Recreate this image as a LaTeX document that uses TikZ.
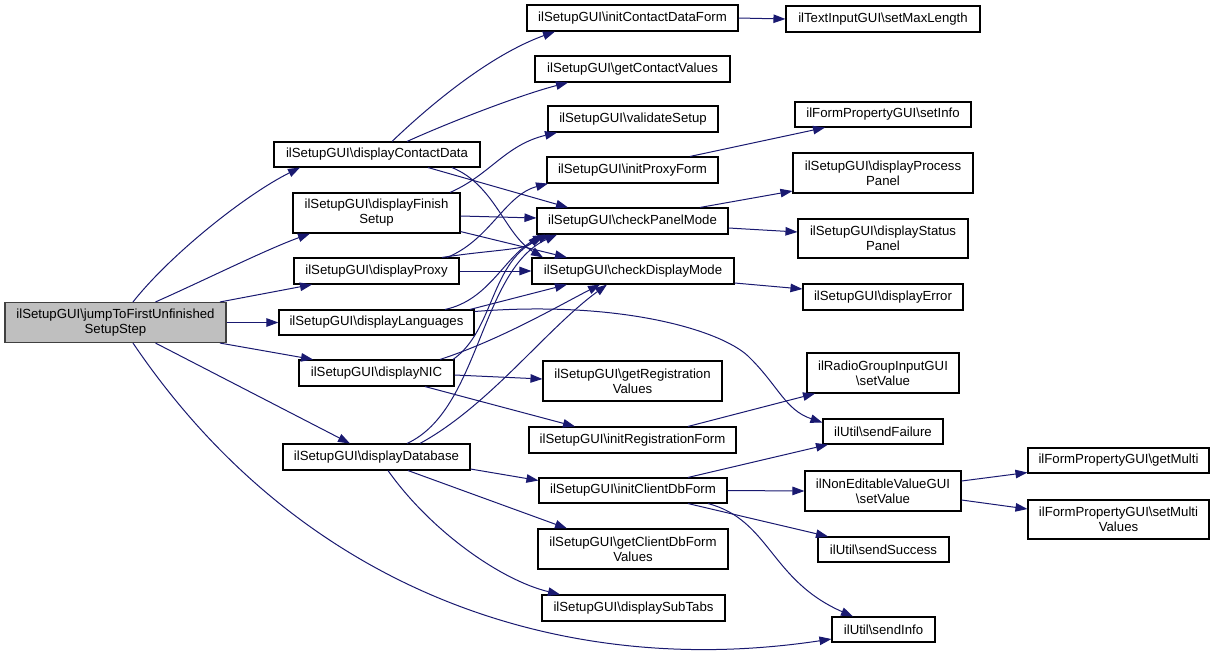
\documentclass[tikz,border=0pt]{standalone}
\usepackage{fontspec}
\setmainfont{Liberation Sans}
\usetikzlibrary{arrows.meta}
\definecolor{edgeblue}{RGB}{25,25,112}
\definecolor{rootgray}{RGB}{191,191,191}
\definecolor{rootborder}{RGB}{64,64,64}
\newcommand{\bs}{\textbackslash{}}
\begin{document}
\begin{tikzpicture}[x=1pt,y=-1pt,
  fnbox/.style={draw=black, line width=1.1pt, fill=white, inner sep=0pt, align=center,
    font=\fontsize{13.2}{15}\selectfont, minimum height=26pt},
  twoline/.style={minimum height=40pt},
  calledge/.style={draw=edgeblue, line width=1pt, -{Triangle[length=12pt,width=8.5pt]}}]
\useasboundingbox (0,0) rectangle (1215,656);
% column 0
\node[fnbox, twoline, fill=rootgray, draw=rootborder, minimum width=221pt] (jump) at (115.5,322.5) {ilSetupGUI\bs jumpToFirstUnfinished\\SetupStep};
% column 1
\node[fnbox, minimum width=206pt, minimum height=25pt] (cd) at (377,154.5) {ilSetupGUI\bs displayContactData};
\node[fnbox, twoline, minimum width=167pt] (fin) at (376.5,213) {ilSetupGUI\bs displayFinish\\Setup};
\node[fnbox, minimum width=165pt] (prx) at (376.5,271) {ilSetupGUI\bs displayProxy};
\node[fnbox, minimum width=195pt, minimum height=25pt] (lang) at (376.5,322.5) {ilSetupGUI\bs displayLanguages};
\node[fnbox, minimum width=155pt] (nic) at (376.5,373) {ilSetupGUI\bs displayNIC};
\node[fnbox, minimum width=187pt] (db) at (376.5,457) {ilSetupGUI\bs displayDatabase};
% column 2
\node[fnbox, minimum width=211pt] (icdf) at (632.5,18) {ilSetupGUI\bs initContactDataForm};
\node[fnbox, minimum width=195pt] (gcv) at (632.5,69) {ilSetupGUI\bs getContactValues};
\node[fnbox, minimum width=170pt] (vs) at (633,119) {ilSetupGUI\bs validateSetup};
\node[fnbox, minimum width=171pt] (ipf) at (632.5,170) {ilSetupGUI\bs initProxyForm};
\node[fnbox, minimum width=191pt] (cpm) at (632.5,221) {ilSetupGUI\bs checkPanelMode};
\node[fnbox, minimum width=202pt] (cdm) at (633,271) {ilSetupGUI\bs checkDisplayMode};
\node[fnbox, twoline, minimum width=179pt] (grv) at (632.5,381) {ilSetupGUI\bs getRegistration\\Values};
\node[fnbox, minimum width=207pt] (irf) at (632.5,440) {ilSetupGUI\bs initRegistrationForm};
\node[fnbox, minimum width=188pt, minimum height=25pt] (icdb) at (633,490.5) {ilSetupGUI\bs initClientDbForm};
\node[fnbox, twoline, minimum width=190pt] (gcdb) at (633,549) {ilSetupGUI\bs getClientDbForm\\Values};
\node[fnbox, minimum width=183pt] (dst) at (633.5,608) {ilSetupGUI\bs displaySubTabs};
% column 3
\node[fnbox, minimum width=194pt] (sml) at (883,19) {ilTextInputGUI\bs setMaxLength};
\node[fnbox, minimum width=176pt, minimum height=25pt] (si) at (883,114.5) {ilFormPropertyGUI\bs setInfo};
\node[fnbox, twoline, minimum width=180pt] (dpp) at (883,173) {ilSetupGUI\bs displayProcess\\Panel};
\node[fnbox, twoline, minimum width=170pt, minimum height=39pt] (dsp) at (883,238.5) {ilSetupGUI\bs displayStatus\\Panel};
\node[fnbox, minimum width=160pt] (de) at (883,297) {ilSetupGUI\bs displayError};
\node[fnbox, twoline, minimum width=152pt] (rg) at (883,373) {ilRadioGroupInputGUI\\\bs setValue};
\node[fnbox, minimum width=120pt, minimum height=25pt] (sf) at (883,431.5) {ilUtil\bs sendFailure};
\node[fnbox, twoline, minimum width=156pt] (ne) at (883,491) {ilNonEditableValueGUI\\\bs setValue};
\node[fnbox, minimum width=131pt, minimum height=25pt] (ss) at (883.5,549.5) {ilUtil\bs sendSuccess};
\node[fnbox, minimum width=103pt, minimum height=25pt] (sinf) at (883.5,629.5) {ilUtil\bs sendInfo};
% column 4
\node[fnbox, minimum width=181pt, minimum height=25pt] (gm) at (1118.5,460.5) {ilFormPropertyGUI\bs getMulti};
\node[fnbox, twoline, minimum width=181pt, minimum height=39pt] (smv) at (1118.5,519.5) {ilFormPropertyGUI\bs setMulti\\Values};

% edges from root
\draw[calledge] ([xshift=17.5pt]jump.north) .. controls (170,255) and (245,195) .. ([xshift=-77pt]cd.south);
\draw[calledge] ([xshift=40pt]jump.north) .. controls (205,280) and (265,250) .. ([xshift=-66.5pt]fin.south);
\draw[calledge] ([xshift=104.5pt]jump.north) -- ([xshift=-64.5pt]prx.south);
\draw[calledge] (jump.east) -- (lang.west);
\draw[calledge] ([xshift=104.5pt]jump.south) -- ([xshift=-63.5pt]nic.north);
\draw[calledge] ([xshift=40pt]jump.south) -- ([xshift=-26.5pt]db.north);
\draw[calledge] ([xshift=17.5pt]jump.south) .. controls (300,590) and (560,680) .. ([yshift=-9.5pt]sinf.west);
% displayContactData
\draw[calledge] ([xshift=15pt]cd.north) .. controls (430,105) and (490,55) .. ([xshift=-77.5pt]icdf.south);
\draw[calledge] ([xshift=30pt]cd.north) .. controls (450,122) and (520,95) .. ([xshift=-64.5pt]gcv.south);
\draw[calledge] ([xshift=51pt]cd.south) -- ([xshift=-64.5pt]cpm.north);
\draw[calledge] ([xshift=75pt]cd.south) .. controls (495,185) and (505,235) .. ([xshift=-90pt]cdm.north);
% displayFinishSetup
\draw[calledge] ([xshift=73.5pt]fin.north) .. controls (490,175) and (505,145) .. ([xshift=-76pt]vs.south);
\draw[calledge] ([yshift=-3pt]fin.east) -- ([yshift=3pt]cpm.west);
\draw[calledge] ([yshift=2pt]fin.south east) -- ([xshift=-66pt]cdm.north);
% displayProxy
\draw[calledge] ([xshift=70.5pt]prx.north) .. controls (490,240) and (505,195) .. ([xshift=-84.5pt]ipf.south);
\draw[calledge] ([xshift=65.5pt]prx.north) .. controls (490,250) and (525,250) .. ([xshift=-92.5pt]cpm.south);
\draw[calledge] (prx.east) -- (cdm.west);
% displayLanguages
\draw[calledge] ([xshift=68.5pt]lang.north) .. controls (490,300) and (505,255) .. ([xshift=-87.5pt]cpm.south);
\draw[calledge] ([xshift=93.5pt]lang.north) -- ([xshift=-66pt]cdm.south);
\draw[calledge] ([yshift=11pt]lang.east) .. controls (620,300) and (720,330) .. (748,356) .. controls (778,385) and (785,410) .. ([yshift=9pt]sf.west);
% displayNIC
\draw[calledge] ([xshift=76.5pt]nic.north) .. controls (495,330) and (490,260) .. ([xshift=-82.5pt]cpm.south);
\draw[calledge] ([xshift=63.5pt]nic.north) .. controls (500,340) and (560,305) .. ([xshift=-33pt]cdm.south);
\draw[calledge] ([yshift=-2pt]nic.east) -- ([yshift=2pt]grv.west);
\draw[calledge] ([xshift=48.5pt]nic.south) -- ([xshift=-57.5pt]irf.north);
% displayDatabase
\draw[calledge] ([xshift=30.5pt]db.north) .. controls (480,410) and (480,270) .. ([xshift=-75.5pt]cpm.south);
\draw[calledge] ([xshift=43.5pt]db.north) .. controls (490,405) and (545,330) .. ([xshift=-26pt]cdm.south);
\draw[calledge] ([yshift=-12pt]db.east) -- ([yshift=10pt]icdb.west);
\draw[calledge] ([xshift=31.5pt]db.south) -- ([xshift=-66pt]gcdb.north);
\draw[calledge] ([xshift=11.5pt]db.south) .. controls (430,530) and (500,580) .. ([xshift=-73.5pt]dst.north);
% column 2 outgoing
\draw[calledge] (icdf.east) -- (sml.west);
\draw[calledge] ([xshift=57.5pt]ipf.north) -- ([xshift=-58pt]si.south);
\draw[calledge] ([xshift=67.5pt]cpm.north) -- ([yshift=-18pt]dpp.west);
\draw[calledge] ([yshift=-7pt]cpm.east) -- ([yshift=6.5pt]dsp.west);
\draw[calledge] ([yshift=-12pt]cdm.east) -- ([yshift=8pt]de.west);
\draw[calledge] ([xshift=55.5pt]irf.north) -- ([xshift=-68pt]rg.south);
\draw[calledge] ([xshift=55pt]icdb.north) -- ([xshift=-55pt]sf.south);
\draw[calledge] (icdb.east) -- (ne.west);
\draw[calledge] ([xshift=55pt]icdb.south) -- ([xshift=-55.5pt]ss.north);
\draw[calledge] ([xshift=75pt]icdb.south) .. controls (770,520) and (770,580) .. ([xshift=-30.5pt]sinf.north);
% column 3 outgoing
\draw[calledge] ([yshift=10pt]ne.east) -- ([yshift=-12pt]gm.west);
\draw[calledge] ([yshift=-9pt]ne.east) -- ([yshift=10.5pt]smv.west);
\end{tikzpicture}
\end{document}
